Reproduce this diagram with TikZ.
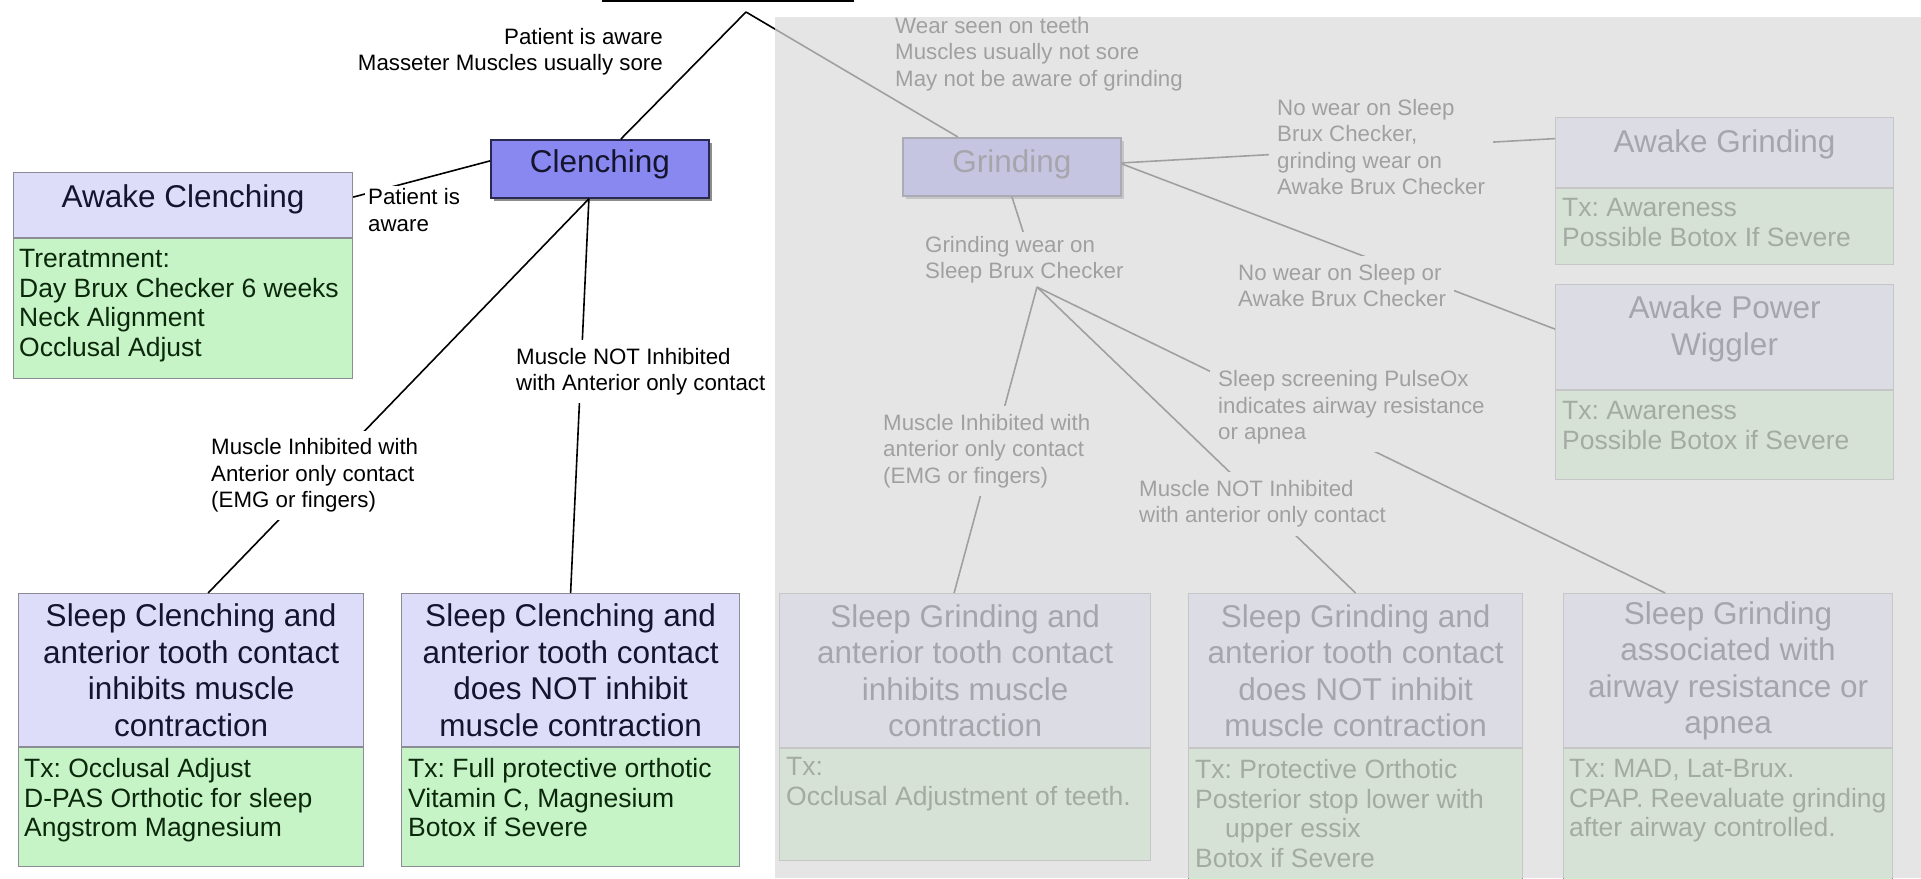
\documentclass[tikz,border=0pt]{standalone}
\usepackage{fontspec}
\setmainfont{Liberation Sans}
\usetikzlibrary{shadows}
\definecolor{hdrfill}{RGB}{221,221,250}
\definecolor{bodyfill}{RGB}{198,244,198}
\definecolor{boxline}{RGB}{140,140,150}
\definecolor{mainfill}{RGB}{136,136,240}
\definecolor{mainline}{RGB}{40,40,80}
\definecolor{ttlcol}{RGB}{20,20,45}
\definecolor{bdycol}{RGB}{12,40,12}
\definecolor{veil}{RGB}{220,220,220}
\newcommand{\fttl}{\fontsize{31.5pt}{36.5pt}\selectfont}
\newcommand{\fbdy}{\fontsize{26.5pt}{29.5pt}\selectfont}
\newcommand{\flbl}{\fontsize{22.3pt}{26.3pt}\selectfont}
\frenchspacing
\tikzset{
  hdrbox/.style={rectangle, draw=boxline, line width=1.2pt, fill=hdrfill, inner sep=0pt, anchor=north west},
  bdybox/.style={rectangle, draw=boxline, line width=1.2pt, fill=bodyfill, inner sep=0pt, anchor=north west},
  ttltxt/.style={font=\fttl, text=ttlcol, align=center, inner sep=0pt},
  bdytxt/.style={font=\fbdy, text=bdycol, align=left, inner sep=0pt, anchor=north west},
  mainbox/.style={rectangle, draw=mainline, line width=1.8pt, fill=mainfill, inner sep=0pt, anchor=north west,
    minimum width=218pt, minimum height=58pt,
    drop shadow={shadow xshift=3pt, shadow yshift=-3pt, opacity=0.45, fill=black}},
  conn/.style={draw=black, line width=1.6pt},
  lbl/.style={font=\flbl, align=left, inner sep=0pt, text=black},
  lblw/.style={lbl, fill=white, inner sep=8pt}
}
\begin{document}
\frenchspacing
\begin{tikzpicture}[x=1pt,y=-1pt]
\useasboundingbox (0,0) rectangle (1921,878);
\clip (0,0) rectangle (1921,878);
\fill[white] (0,0) rectangle (1921,878);

% top (cut-off) box
\node[draw=black, line width=2pt, fill=white, minimum width=250pt, minimum height=80pt, anchor=south, inner sep=0pt] (topbox) at (728,2) {};
\coordinate (apex) at (746,12);

% main decision boxes
\node[mainbox] (clench) at (490,139) {};
\node[ttltxt] (clenchT) at ([yshift=5pt]clench.center) {Clenching};
\node[mainbox] (grind) at (902,137) {};
\node[ttltxt] (grindT) at ([yshift=3pt]grind.center) {Grinding};

% Awake Clenching
\node[hdrbox, minimum width=339pt, minimum height=65pt] (ac) at (13,172) {};
\node[ttltxt] (acT) at ([yshift=6pt]ac.center) {Awake Clenching};
\node[bdybox, minimum width=339pt, minimum height=140pt] (acB) at (ac.south west) {};
\node[bdytxt] (acBT) at ([xshift=6pt,yshift=-11pt]acB.north west) {Treratmnent:\\Day Brux Checker 6 weeks\\Neck Alignment\\Occlusal Adjust};

% Awake Grinding
\node[hdrbox, minimum width=338pt, minimum height=70pt] (ag) at (1555,117) {};
\node[ttltxt] (agT) at ([yshift=8pt]ag.center) {Awake Grinding};
\node[bdybox, minimum width=338pt, minimum height=76pt] (agB) at (ag.south west) {};
\node[bdytxt] (agBT) at ([xshift=7pt,yshift=-10pt]agB.north west) {Tx: Awareness\\Possible Botox If Severe};

% Awake Power Wiggler
\node[hdrbox, minimum width=338pt, minimum height=105pt] (apw) at (1555,284) {};
\node[ttltxt] (apwT) at ([yshift=8pt]apw.center) {Awake Power\\Wiggler};
\node[bdybox, minimum width=338pt, minimum height=89pt] (apwB) at (apw.south west) {};
\node[bdytxt] (apwBT) at ([xshift=7pt,yshift=-11pt]apwB.north west) {Tx: Awareness\\Possible Botox if Severe};

% Sleep Clenching 1
\node[hdrbox, minimum width=345pt, minimum height=153pt] (sc1) at (18,593) {};
\node[ttltxt] (sc1T) at (sc1.center) {Sleep Clenching and\\anterior tooth contact\\inhibits muscle\\contraction};
\node[bdybox, minimum width=345pt, minimum height=119pt] (sc1B) at (sc1.south west) {};
\node[bdytxt] (sc1BT) at ([xshift=6pt,yshift=-11pt]sc1B.north west) {Tx: Occlusal Adjust\\D-PAS Orthotic for sleep\\Angstrom Magnesium};

% Sleep Clenching 2
\node[hdrbox, minimum width=338pt, minimum height=153pt] (sc2) at (401,593) {};
\node[ttltxt] (sc2T) at (sc2.center) {Sleep Clenching and\\anterior tooth contact\\does NOT inhibit\\muscle contraction};
\node[bdybox, minimum width=338pt, minimum height=119pt] (sc2B) at (sc2.south west) {};
\node[bdytxt] (sc2BT) at ([xshift=7pt,yshift=-11pt]sc2B.north west) {Tx: Full protective orthotic\\Vitamin C, Magnesium\\Botox if Severe};

% Sleep Grinding 1
\node[hdrbox, minimum width=371pt, minimum height=154pt] (sg1) at (779,593) {};
\node[ttltxt] (sg1T) at (sg1.center) {Sleep Grinding and\\anterior tooth contact\\inhibits muscle\\contraction};
\node[bdybox, minimum width=371pt, minimum height=112pt] (sg1B) at (sg1.south west) {};
\node[bdytxt] (sg1BT) at ([xshift=7pt,yshift=-9pt]sg1B.north west) {Tx:\\Occlusal Adjustment of teeth.};

% Sleep Grinding 2
\node[hdrbox, minimum width=334pt, minimum height=154pt] (sg2) at (1188,593) {};
\node[ttltxt] (sg2T) at (sg2.center) {Sleep Grinding and\\anterior tooth contact\\does NOT inhibit\\muscle contraction};
\node[bdybox, minimum width=334pt, minimum height=140pt] (sg2B) at (sg2.south west) {};
\node[bdytxt] (sg2BT) at ([xshift=7pt,yshift=-11pt]sg2B.north west) {Tx: Protective Orthotic\\Posterior stop lower with\\\hspace*{30pt}upper essix\\Botox if Severe};

% Sleep Grinding 3
\node[hdrbox, minimum width=329pt, minimum height=154pt] (sg3) at (1563,593) {};
\node[ttltxt] (sg3T) at (sg3.center) {Sleep Grinding\\associated with\\airway resistance or\\apnea};
\node[bdybox, minimum width=329pt, minimum height=140pt] (sg3B) at (sg3.south west) {};
\node[bdytxt] (sg3BT) at ([xshift=6pt,yshift=-11pt]sg3B.north west) {Tx: MAD, Lat-Brux.\\CPAP. Reevaluate grinding\\after airway controlled.};

% free labels
\node[lbl, align=right, anchor=east] (lTop) at (663,51.5) {Patient is aware\\Masseter Muscles usually sore};
\node[lbl, anchor=west] (lWear) at (895,54) {Wear seen on teeth\\Muscles usually not sore\\May not be aware of grinding};
\node[lbl, anchor=west] (lGW) at (925,259.5) {Grinding wear on\\Sleep Brux Checker};
\coordinate (gwb) at (1037,287);

% connectors
\draw[conn] (apex) -- ([xshift=21pt]clench.north);
\draw[conn] (apex) -- ([xshift=-54pt]grind.north);
\draw[conn] ([yshift=8pt]clench.west) -- ([yshift=8pt]ac.east);
\draw[conn] ([xshift=-11pt]clench.south) -- ([xshift=17pt]sc1.north);
\draw[conn] ([xshift=-11pt]clench.south) -- (sc2.north);
\draw[conn] ([yshift=4pt]grind.east) -- ([yshift=14pt]ag.west);
\draw[conn] ([yshift=3pt]grind.east) -- ([yshift=8pt]apw.west);
\draw[conn, shorten >=4pt] (grind.south) -- (lGW.north);
\draw[conn] (gwb) -- ([xshift=-11pt]sg1.north);
\draw[conn] (gwb) -- (sg2.north);
\draw[conn] (gwb) -- ([xshift=-63pt]sg3.north);

% labels sitting on connectors
\node[lblw, inner sep=3pt, anchor=west] (lPA) at (365,210) {Patient is\\aware};
\node[lblw, anchor=west] (lMI) at (203,475.5) {Muscle Inhibited with\\Anterior only contact\\(EMG or fingers)};
\node[lblw, anchor=west] (lMN) at (508,371.5) {Muscle NOT Inhibited\\with Anterior only contact};
\node[lblw, anchor=west] (lAG) at (1269,147) {No wear on Sleep\\Brux Checker,\\grinding wear on\\Awake Brux Checker};
\node[lblw, anchor=west] (lAPW) at (1230,285.5) {No wear on Sleep or\\Awake Brux Checker};
\node[lblw, anchor=west] (lSG1) at (875,451) {Muscle Inhibited with\\anterior only contact\\(EMG or fingers)};
\node[lblw, anchor=west] (lSG2) at (1131,504) {Muscle NOT Inhibited\\with anterior only contact};
\node[lblw, anchor=west] (lSG3) at (1210,407.5) {Sleep screening PulseOx\\indicates airway resistance\\or apnea};

% grey veil over the grinding half
\fill[veil, opacity=0.73] (775,17) rectangle (1921,878);
\end{tikzpicture}
\end{document}
